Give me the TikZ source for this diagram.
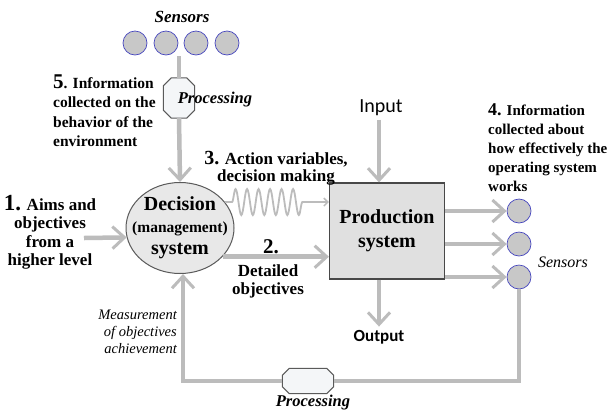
\documentclass[tikz,border=0pt]{standalone}
\usepackage{fontspec}
\setmainfont{Liberation Serif}
\newfontfamily\calib{Carlito}
\usetikzlibrary{shapes.geometric, arrows.meta, decorations.pathmorphing}

\definecolor{arrowgray}{RGB}{188,188,188}
\definecolor{sensorgray}{RGB}{200,200,200}
\definecolor{sensorblue}{RGB}{70,70,190}
\definecolor{edgegray}{RGB}{90,90,90}
\definecolor{boxfill}{RGB}{224,224,224}
\definecolor{ellfill}{RGB}{232,232,232}
\definecolor{procfill}{RGB}{244,246,248}

% octagon drawn round a node: #1 node name, #2 corner cut
\newcommand{\chamferbox}[2]{%
  \draw[draw=edgegray, line width=1pt, fill=procfill]
    ([xshift=#2]#1.north west) -- ([xshift=-#2]#1.north east) -- ([yshift=-#2]#1.north east)
    -- ([yshift=#2]#1.south east) -- ([xshift=-#2]#1.south east) -- ([xshift=#2]#1.south west)
    -- ([yshift=#2]#1.south west) -- ([yshift=-#2]#1.north west) -- cycle;}

\begin{document}
\begin{tikzpicture}[x=1pt, y=-1pt,
    flow/.style={draw=arrowgray, line width=4.5pt, -{Straight Barb[length=12pt, width=22pt, line width=3pt]}},
    flowline/.style={draw=arrowgray, line width=4.5pt},
    wave/.style={draw=arrowgray, line width=1.8pt, -{Straight Barb[length=4pt, width=8pt, line width=1.5pt]}},
    sensor/.style={circle, draw=sensorblue, line width=0.7pt, fill=sensorgray, minimum size=24pt, inner sep=0pt},
    procbox/.style={rectangle, inner sep=0pt},
    lbl/.style={font=\bfseries, inner sep=0pt}]
        \path[fill=white] (0,0) rectangle (609,416);
        \useasboundingbox (0,0) rectangle (609,416);

        % Sensors above
        \node[font=\bfseries\itshape\fontsize{17}{17}\selectfont] (senstop) at (182,17) {Sensors};
        \foreach \i/\x in {1/135, 2/166, 3/196, 4/227} {
          \node[sensor] (t\i) at (\x,43) {};
        }
        \coordinate (tops) at (179,56);

        % Decision system and production system
        \node[ellipse, draw=edgegray, line width=1pt, fill=ellfill, minimum width=108pt, minimum height=91pt,
              inner sep=0pt] (dec) at (180,228) {};
        \node[lbl, align=center, font=\bfseries\fontsize{20}{22}\selectfont] (dectxt) at (dec.center)
              {Decision\\{\fontsize{15.5}{22}\selectfont(management)}\\system};
        \node[draw=edgegray!80!black, line width=1.2pt, fill=boxfill, minimum width=115pt, minimum height=96pt,
              align=center, font=\bfseries\fontsize{20}{24}\selectfont] (prod) at (387,231) {Production\\system};

        % Processing blocks
        \node[procbox, minimum width=31pt, minimum height=40pt] (proc1) at (179,98) {};
        \chamferbox{proc1}{8pt}
        \node[font=\bfseries\itshape\fontsize{16.5}{17}\selectfont] (proc1txt) at (215,100) {Processing};
        \node[procbox, minimum width=51pt, minimum height=25pt] (proc2) at (308,381) {};
        \chamferbox{proc2}{7pt}
        \node[font=\bfseries\itshape\fontsize{16.5}{17}\selectfont] (proc2txt) at (313,403) {Processing};

        % Sensors on the right
        \foreach \i/\y in {1/211, 2/244, 3/277} {
          \node[sensor] (s\i) at (519,\y) {};
        }
        \node[font=\itshape\fontsize{16}{16}\selectfont] (sensright) at (563,262) {Sensors};

        % Labels
        \node[lbl, align=left, anchor=west, font=\bfseries\fontsize{15.5}{19.5}\selectfont] (info5) at (53,110.5)
          {{\fontsize{21}{19.5}\selectfont 5}. Information\\collected on the\\behavior of the\\environment};
        \node[lbl, align=center, font=\bfseries\fontsize{17}{18.5}\selectfont] (aims) at (50,232.5)
          {{\fontsize{23}{18.5}\selectfont 1.} Aims and\\objectives\\from a\\higher level};
        \node[lbl, align=center, font=\bfseries\fontsize{17}{17}\selectfont] (act3) at (276,168.5)
          {{\fontsize{20}{17}\selectfont 3.} Action variables,\\decision making};
        \node[lbl, font=\bfseries\fontsize{21}{21}\selectfont] (num2) at (271,247) {2.};
        \node[lbl, align=center, font=\bfseries\fontsize{17}{18}\selectfont] (det2) at (268,281) {Detailed\\objectives};
        \node[lbl, align=left, anchor=west, font=\bfseries\fontsize{15}{19}\selectfont] (info4) at (488,148)
          {{\fontsize{18}{19}\selectfont 4.} Information\\collected about\\how effectively the\\operating system\\works};
        \node[inner sep=0pt, align=right, anchor=east, font=\itshape\fontsize{14.5}{17}\selectfont] (meas) at (177,332)
          {Measurement\\of objectives\\achievement};
        \node[font=\calib\fontsize{20}{20}\selectfont] (input) at (381,108) {Input};
        \node[font=\calib\bfseries\fontsize{17}{17}\selectfont] (output) at (379,337) {Output};
        \coordinate (aimsout) at (84,238);

        % Connectors
        \draw[flowline] (tops) -- (proc1.north);
        \draw[flow] (proc1.south) -- (dec.north);
        \draw[flow] (aimsout) -- (dec.190);
        \draw[flow] (dec.-34) -- (prod.west |- dec.-34);
        \draw[wave, decorate, decoration={snake, segment length=11.5pt, amplitude=13pt, pre length=7pt, post length=24pt}]
          (dec.30) -- (prod.west |- dec.30);
        \draw[flow] (input.south -| output) -- (output |- prod.north);
        \draw[flow] (output |- prod.south) -- (output.north);
        \foreach \s in {s1, s2, s3} {
          \draw[flow] (prod.east |- \s) -- (\s.west);
        }

        % Feedback loop
        \draw[flowline] (s3.south) |- (proc2.east);
        \draw[flow] (proc2.west) -| ([xshift=3pt]dec.south);
      \end{tikzpicture}
\end{document}
